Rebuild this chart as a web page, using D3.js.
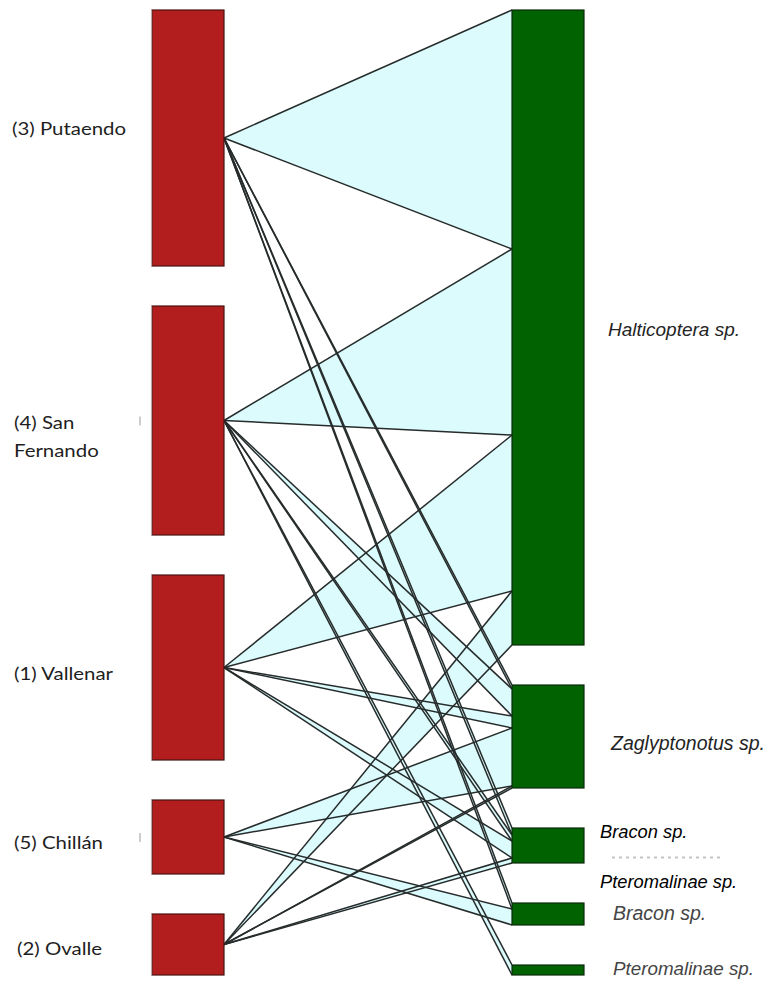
<!DOCTYPE html>
<html>
<head>
<meta charset="utf-8">
<script src="https://cdn.jsdelivr.net/npm/d3@7"></script>
<style>
  body { margin: 0; background: #fff; }
  svg { display: block; }
</style>
</head>
<body>
<svg id="web" width="767" height="981"></svg>
<script>
// Sampling sites (lower level, left column), top to bottom
const sites = ["(3) Putaendo", "(4) San Fernando", "(1) Vallenar", "(5) Chillán", "(2) Ovalle"];
const siteLabelLines = [["(3) Putaendo"], ["(4) San", "Fernando"], ["(1) Vallenar"], ["(5) Chillán"], ["(2) Ovalle"]];

// Parasitoid taxa (higher level, right column), top to bottom
const parasitoids = ["Halticoptera sp.", "Zaglyptonotus sp.", "Bracon sp.", "Bracon sp.", "Pteromalinae sp."];
const extraLabel = "Pteromalinae sp.";

// Interactions: site index, parasitoid index, number of individuals
const linkSite       = [0,   0, 0, 0,   1,  1, 1,  1,   2,  2,  2,  3,  3,  4, 4, 4];
const linkParasitoid = [0,   1, 2, 3,   0,  1, 2,  4,   0,  1,  2,  1,  3,  0, 1, 2];
const linkCount      = [239, 4, 7, 6, 186, 27, 6, 10, 156, 12, 17, 58, 16, 54, 2, 5];

const svg = d3.select("#web");
const yTop = 10, yBottom = 975, gap = 40;
const leftX0 = 152, leftX1 = 224, rightX0 = 512, rightX1 = 584;

const links = linkCount.map((v, i) => ({ s: linkSite[i], p: linkParasitoid[i], v }));
const siteTotals = sites.map((_, i) => d3.sum(links.filter(l => l.s === i), l => l.v));
const parTotals = parasitoids.map((_, j) => d3.sum(links.filter(l => l.p === j), l => l.v));
const grand = d3.sum(linkCount);

// box heights and link widths share the same scale in each column
const hL = d3.scaleLinear().domain([0, grand]).range([0, (yBottom - yTop) - gap * (sites.length - 1)]);
const hR = d3.scaleLinear().domain([0, grand]).range([0, (yBottom - yTop) - gap * (parasitoids.length - 1)]);

function stack(totals, scale) {
  let y = yTop;
  return totals.map(t => { const y0 = y; y += scale(t) + gap; return { y0, y1: y0 + scale(t) }; });
}
const siteBoxes = stack(siteTotals, hL);
const parBoxes = stack(parTotals, hR);

// right-end segments: stacked in site order inside each parasitoid box
const offsets = parBoxes.map(b => b.y0);
const sorted = links.slice().sort((a, b) => a.p - b.p || a.s - b.s);
sorted.forEach(l => {
  l.y0 = offsets[l.p];
  l.y1 = l.y0 + hR(l.v);
  offsets[l.p] = l.y1;
  l.ax = leftX1;
  l.ay = (siteBoxes[l.s].y0 + siteBoxes[l.s].y1) / 2;
});

// link fills, then outlines
svg.append("g").selectAll("path").data(sorted).join("path")
  .attr("d", l => `M${l.ax},${l.ay}L${rightX0},${l.y0}L${rightX0},${l.y1}Z`)
  .attr("fill", "#dcfbfc")
  .attr("stroke", "none");

const edges = svg.append("g").attr("stroke", "#262b2b").attr("stroke-width", 1.5).attr("fill", "none");
sorted.forEach(l => {
  edges.append("line").attr("x1", l.ax).attr("y1", l.ay).attr("x2", rightX0).attr("y2", l.y0);
  edges.append("line").attr("x1", l.ax).attr("y1", l.ay).attr("x2", rightX0).attr("y2", l.y1);
});

// site boxes
svg.append("g").selectAll("rect").data(siteBoxes).join("rect")
  .attr("x", leftX0).attr("width", leftX1 - leftX0)
  .attr("y", d => d.y0).attr("height", d => d.y1 - d.y0)
  .attr("fill", "#b21e1e").attr("stroke", "#4a1212").attr("stroke-width", 1.2);
svg.append("g").selectAll("line").data(siteBoxes).join("line")
  .attr("x1", leftX0 - 0.5).attr("x2", leftX0 - 0.5)
  .attr("y1", d => d.y0).attr("y2", d => d.y1)
  .attr("stroke", "#b9a7a7").attr("stroke-width", 1.2);

// parasitoid boxes
svg.append("g").selectAll("rect").data(parBoxes).join("rect")
  .attr("x", rightX0).attr("width", rightX1 - rightX0)
  .attr("y", d => d.y0).attr("height", d => d.y1 - d.y0)
  .attr("fill", "#006200").attr("stroke", "#0d2a0d").attr("stroke-width", 1.2);

// site labels (slightly widened face)
const siteLabelX = [12, 14, 14, 14, 17];
const siteLabelDy = [-7, 18, 8, 8, 6];
const stretch = 1.2;
siteLabelLines.forEach((lines, i) => {
  const cy = (siteBoxes[i].y0 + siteBoxes[i].y1) / 2;
  const g = svg.append("g")
    .attr("transform", `translate(${siteLabelX[i]},0) scale(${stretch},1)`);
  const t = g.append("text")
    .attr("font-family", "Lato, 'Open Sans', sans-serif")
    .attr("font-size", 17).attr("fill", "#1e1e1e");
  const lh = 28;
  lines.forEach((s, k) => {
    t.append("tspan").attr("x", 0)
      .attr("y", cy + (k - (lines.length - 1) / 2) * lh + siteLabelDy[i])
      .attr("dominant-baseline", "middle").text(s);
  });
});

// faint smudge left under the first Bracon label
svg.append("line")
  .attr("x1", 612).attr("x2", 724)
  .attr("y1", (parBoxes[2].y0 + parBoxes[2].y1) / 2 + 12)
  .attr("y2", (parBoxes[2].y0 + parBoxes[2].y1) / 2 + 12)
  .attr("stroke", "#c4c4c4").attr("stroke-width", 2)
  .attr("stroke-dasharray", "3 4");

// parasitoid labels
const parLabelX = [608, 611, 600, 613, 613];
const parLabelDy = [3, 8, -12, 1, 0];
const parLabelColor = ["#242424", "#242424", "#000", "#454545", "#454545"];
const parLabelSize = [19, 19.5, 18.3, 19.5, 18.8];
parasitoids.forEach((name, j) => {
  svg.append("text")
    .attr("x", parLabelX[j])
    .attr("y", (parBoxes[j].y0 + parBoxes[j].y1) / 2 + parLabelDy[j])
    .attr("dominant-baseline", "middle")
    .attr("font-family", "'Liberation Sans', Arial, sans-serif")
    .attr("font-style", "italic")
    .attr("font-size", parLabelSize[j])
    .attr("fill", parLabelColor[j])
    .text(name);
});
svg.append("text")
  .attr("x", 600)
  .attr("y", (parBoxes[2].y1 + parBoxes[3].y0) / 2)
  .attr("dominant-baseline", "middle")
  .attr("font-family", "'Liberation Sans', Arial, sans-serif")
  .attr("font-style", "italic")
  .attr("font-size", 18.3)
  .attr("fill", "#000")
  .text(extraLabel);

// small marks beside two of the site labels
[1, 3].forEach(i => {
  const cy = (siteBoxes[i].y0 + siteBoxes[i].y1) / 2;
  svg.append("line").attr("x1", 140).attr("x2", 140).attr("y1", cy - 4).attr("y2", cy + 5)
    .attr("stroke", "#9a9a9a").attr("stroke-width", 1);
});
</script>
</body>
</html>
